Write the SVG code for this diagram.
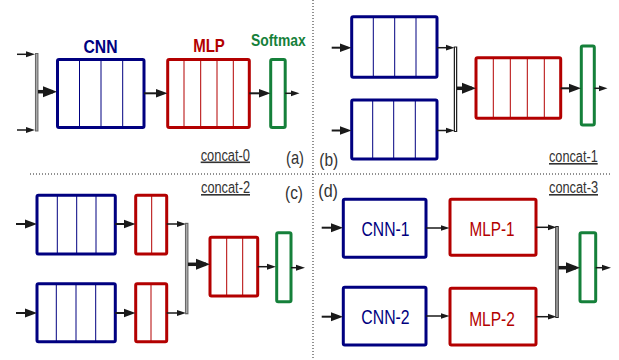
<svg xmlns="http://www.w3.org/2000/svg" width="619" height="360" viewBox="0 0 619 360">
  <style>
    .cnn { fill: #fff; stroke: #000080; stroke-width: 3; }
    .mlp { fill: #fff; stroke: #b30000; stroke-width: 3; }
    .smx { fill: #fff; stroke: #15803a; stroke-width: 3; }
    .cdiv { stroke: #000080; stroke-width: 1; }
    .mdiv { stroke: #b30000; stroke-width: 1; }
    .a-big { stroke: #1a1a1a; stroke-width: 3.5; fill: none; marker-end: url(#hBig); }
    .a-med { stroke: #1a1a1a; stroke-width: 2; fill: none; marker-end: url(#hMed); }
    .a-sm { stroke: #1a1a1a; stroke-width: 1.5; fill: none; marker-end: url(#hSm); }
    .bar-out { stroke: #222; stroke-width: 3.5; fill: none; }
    .bar-out-g { stroke: #666; stroke-width: 3.5; fill: none; }
    .bar-in-g { stroke: #aaa; stroke-width: 1.5; fill: none; }
    .bar-in-w { stroke: #fff; stroke-width: 1; fill: none; }
    .sep { stroke: #222; stroke-width: 1; stroke-dasharray: 1 2; fill: none; }
    .ttl { font-family: "Liberation Sans", Arial, sans-serif; font-weight: bold; text-anchor: middle; }
    .nm { font-family: "Liberation Sans", Arial, sans-serif; font-size: 20px; text-anchor: middle; }
    .cc { font-family: "Liberation Sans", Arial, sans-serif; font-size: 16px; fill: #333; text-decoration: underline; }
    .pl { font-family: "Liberation Sans", Arial, sans-serif; font-size: 19px; fill: #333; }
  </style>
  <defs>
    <marker id="hBig" markerUnits="userSpaceOnUse" markerWidth="14" markerHeight="12" refX="10" refY="6" orient="auto">
      <path d="M0,0.5 L14,6 L0,11.5 z" fill="#1a1a1a"/>
    </marker>
    <marker id="hMed" markerUnits="userSpaceOnUse" markerWidth="12" markerHeight="10" refX="8" refY="5" orient="auto">
      <path d="M0,0.5 L12,5 L0,9.5 z" fill="#1a1a1a"/>
    </marker>
    <marker id="hSm" markerUnits="userSpaceOnUse" markerWidth="9" markerHeight="7" refX="5" refY="3.5" orient="auto">
      <path d="M0,0.5 L9,3.5 L0,6.5 z" fill="#1a1a1a"/>
    </marker>
  </defs>

  <!-- panel separators -->
  <g id="separators">
    <line class="sep" x1="30" y1="174" x2="610" y2="174"/>
    <line class="sep" x1="313" y1="0" x2="313" y2="360"/>
  </g>

  <!-- ===== (a) concat-0 ===== -->
  <g id="a-cnn">
    <text class="ttl" x="100.5" y="52.5" font-size="18" fill="#000080" textLength="34" lengthAdjust="spacingAndGlyphs">CNN</text>
    <rect class="cnn" x="57.5" y="59.5" width="86.5" height="68" rx="1.5"/>
    <line class="cdiv" x1="79.5" y1="59.5" x2="79.5" y2="127.5"/>
    <line class="cdiv" x1="101" y1="59.5" x2="101" y2="127.5"/>
    <line class="cdiv" x1="122.7" y1="59.5" x2="122.7" y2="127.5"/>
  </g>
  <g id="a-mlp">
    <text class="ttl" x="209" y="51.5" font-size="18" fill="#b30000" textLength="31.7" lengthAdjust="spacingAndGlyphs">MLP</text>
    <rect class="mlp" x="167.7" y="59.5" width="81.6" height="68" rx="1.5"/>
    <line class="mdiv" x1="184" y1="59.5" x2="184" y2="127.5"/>
    <line class="mdiv" x1="200.7" y1="59.5" x2="200.7" y2="127.5"/>
    <line class="mdiv" x1="217" y1="59.5" x2="217" y2="127.5"/>
    <line class="mdiv" x1="233.3" y1="59.5" x2="233.3" y2="127.5"/>
  </g>
  <g id="a-softmax">
    <text class="ttl" x="278.3" y="45.5" font-size="17" fill="#15803a" textLength="54.7" lengthAdjust="spacingAndGlyphs">Softmax</text>
    <rect class="smx" x="270.7" y="59.5" width="14.5" height="68" rx="1.5"/>
  </g>
  <g id="a-labels">
    <text class="cc" x="200.7" y="160.5" textLength="49.3" lengthAdjust="spacingAndGlyphs">concat-0</text>
    <text class="pl" x="286" y="164" textLength="18" lengthAdjust="spacingAndGlyphs">(a)</text>
  </g>

  <!-- ===== (b) concat-1 ===== -->
  <g id="b-cnn-top">
    <rect class="cnn" x="351.7" y="16.7" width="85.3" height="60.6" rx="1.5"/>
    <line class="cdiv" x1="373.3" y1="16.7" x2="373.3" y2="77.3"/>
    <line class="cdiv" x1="394.7" y1="16.7" x2="394.7" y2="77.3"/>
    <line class="cdiv" x1="416" y1="16.7" x2="416" y2="77.3"/>
  </g>
  <g id="b-cnn-bottom">
    <rect class="cnn" x="351.7" y="100" width="85.3" height="59" rx="1.5"/>
    <line class="cdiv" x1="372.7" y1="100" x2="372.7" y2="159"/>
    <line class="cdiv" x1="393.7" y1="100" x2="393.7" y2="159"/>
    <line class="cdiv" x1="415.3" y1="100" x2="415.3" y2="159"/>
  </g>
  <g id="b-mlp">
    <rect class="mlp" x="476" y="57.7" width="84.7" height="60.6" rx="1.5"/>
    <line class="mdiv" x1="493.3" y1="57.7" x2="493.3" y2="118.3"/>
    <line class="mdiv" x1="510.3" y1="57.7" x2="510.3" y2="118.3"/>
    <line class="mdiv" x1="527.3" y1="57.7" x2="527.3" y2="118.3"/>
    <line class="mdiv" x1="544.3" y1="57.7" x2="544.3" y2="118.3"/>
  </g>
  <g id="b-softmax">
    <rect class="smx" x="581.3" y="46" width="13" height="79" rx="1.5"/>
  </g>
  <g id="b-labels">
    <text class="cc" x="549" y="162" textLength="48.7" lengthAdjust="spacingAndGlyphs">concat-1</text>
    <text class="pl" x="319.3" y="166" textLength="19" lengthAdjust="spacingAndGlyphs">(b)</text>
  </g>

  <!-- ===== (c) concat-2 ===== -->
  <g id="c-cnn-top">
    <rect class="cnn" x="37" y="195.3" width="78.3" height="58.7" rx="1.5"/>
    <line class="cdiv" x1="57.3" y1="195.3" x2="57.3" y2="254"/>
    <line class="cdiv" x1="76.7" y1="195.3" x2="76.7" y2="254"/>
    <line class="cdiv" x1="96" y1="195.3" x2="96" y2="254"/>
  </g>
  <g id="c-cnn-bottom">
    <rect class="cnn" x="37" y="283.7" width="78.3" height="58" rx="1.5"/>
    <line class="cdiv" x1="56.3" y1="283.7" x2="56.3" y2="341.7"/>
    <line class="cdiv" x1="76" y1="283.7" x2="76" y2="341.7"/>
    <line class="cdiv" x1="95.7" y1="283.7" x2="95.7" y2="341.7"/>
  </g>
  <g id="c-mlp-top">
    <rect class="mlp" x="135.7" y="195.3" width="31" height="58.7" rx="1.5"/>
    <line class="mdiv" x1="151.7" y1="195.3" x2="151.7" y2="254"/>
  </g>
  <g id="c-mlp-bottom">
    <rect class="mlp" x="135.7" y="283.7" width="31" height="58" rx="1.5"/>
    <line class="mdiv" x1="151" y1="283.7" x2="151" y2="341.7"/>
  </g>
  <g id="c-mlp">
    <rect class="mlp" x="210" y="237.3" width="47.7" height="58.7" rx="1.5"/>
    <line class="mdiv" x1="226.7" y1="237.3" x2="226.7" y2="296"/>
    <line class="mdiv" x1="242.7" y1="237.3" x2="242.7" y2="296"/>
  </g>
  <g id="c-softmax">
    <rect class="smx" x="276.7" y="232.7" width="14.3" height="69" rx="1.5"/>
  </g>
  <g id="c-labels">
    <text class="cc" x="201" y="193" textLength="49" lengthAdjust="spacingAndGlyphs">concat-2</text>
    <text class="pl" x="285" y="199" textLength="18" lengthAdjust="spacingAndGlyphs">(c)</text>
  </g>

  <!-- ===== (d) concat-3 ===== -->
  <g id="d-cnn1">
    <rect class="cnn" x="343.3" y="199.3" width="82.7" height="58" rx="1.5"/>
    <text class="nm" x="385.5" y="236" fill="#000080" textLength="48" lengthAdjust="spacingAndGlyphs">CNN-1</text>
  </g>
  <g id="d-cnn2">
    <rect class="cnn" x="343.3" y="287.3" width="82.7" height="57.7" rx="1.5"/>
    <text class="nm" x="385.5" y="324" fill="#000080" textLength="48.3" lengthAdjust="spacingAndGlyphs">CNN-2</text>
  </g>
  <g id="d-mlp1">
    <rect class="mlp" x="450" y="199.3" width="86" height="56" rx="1.5"/>
    <text class="nm" x="492" y="236" fill="#b30000" textLength="45" lengthAdjust="spacingAndGlyphs">MLP-1</text>
  </g>
  <g id="d-mlp2">
    <rect class="mlp" x="450" y="288.3" width="86" height="56.7" rx="1.5"/>
    <text class="nm" x="492" y="326" fill="#b30000" textLength="45.7" lengthAdjust="spacingAndGlyphs">MLP-2</text>
  </g>
  <g id="d-softmax">
    <rect class="smx" x="580" y="232.7" width="15.7" height="69" rx="1.5"/>
  </g>
  <g id="d-labels">
    <text class="cc" x="549" y="193" textLength="49" lengthAdjust="spacingAndGlyphs">concat-3</text>
    <text class="pl" x="318.3" y="197" textLength="19.7" lengthAdjust="spacingAndGlyphs">(d)</text>
  </g>

  <!-- connectors -->
  <g id="connectors">
    <!-- (a) -->
    <line class="a-sm" x1="17" y1="54.3" x2="31" y2="54.3"/>
    <line class="a-sm" x1="17" y1="130" x2="31" y2="130"/>
    <line class="bar-out-g" x1="36.7" y1="53" x2="36.7" y2="131.5"/>
    <line class="bar-in-g" x1="36.7" y1="54" x2="36.7" y2="130.5"/>
    <line class="a-big" x1="38" y1="91.7" x2="53" y2="91.7"/>
    <line class="a-med" x1="144" y1="93.3" x2="163.5" y2="93.3"/>
    <line class="a-med" x1="249.3" y1="93.3" x2="266.5" y2="93.3"/>
    <line class="a-sm" x1="285.2" y1="93.3" x2="295.5" y2="93.3"/>

    <!-- (b) -->
    <line class="a-med" x1="331.7" y1="47.7" x2="347.5" y2="47.7"/>
    <line class="a-med" x1="331.7" y1="130.5" x2="347.5" y2="130.5"/>
    <line class="a-sm" x1="437" y1="47.7" x2="450.5" y2="47.7"/>
    <line class="a-sm" x1="437" y1="130.5" x2="450.5" y2="130.5"/>
    <line class="bar-out" x1="455.5" y1="46.5" x2="455.5" y2="132"/>
    <line class="bar-in-w" x1="455.5" y1="47.5" x2="455.5" y2="131"/>
    <line class="a-big" x1="457" y1="88.3" x2="472" y2="88.3"/>
    <line class="a-med" x1="560.7" y1="88.3" x2="577" y2="88.3"/>
    <line class="a-sm" x1="594.3" y1="88.3" x2="603.5" y2="88.3"/>

    <!-- (c) -->
    <line class="a-med" x1="16" y1="224" x2="33" y2="224"/>
    <line class="a-med" x1="16" y1="313" x2="33" y2="313"/>
    <line class="a-med" x1="115.3" y1="224" x2="131.5" y2="224"/>
    <line class="a-med" x1="115.3" y1="313" x2="131.5" y2="313"/>
    <line class="a-sm" x1="166.7" y1="224" x2="182" y2="224"/>
    <line class="a-sm" x1="166.7" y1="313" x2="182" y2="313"/>
    <line class="bar-out-g" x1="186.7" y1="222.8" x2="186.7" y2="314.3"/>
    <line class="bar-in-g" x1="186.7" y1="224" x2="186.7" y2="313"/>
    <line class="a-big" x1="188" y1="264.3" x2="206" y2="264.3"/>
    <line class="a-sm" x1="257.7" y1="266.7" x2="272" y2="266.7"/>
    <line class="a-sm" x1="291" y1="267.7" x2="301" y2="267.7"/>

    <!-- (d) -->
    <line class="a-med" x1="321.7" y1="227.7" x2="339" y2="227.7"/>
    <line class="a-med" x1="321.7" y1="316.7" x2="339" y2="316.7"/>
    <line class="a-sm" x1="426" y1="228" x2="445.5" y2="228"/>
    <line class="a-sm" x1="426" y1="316" x2="445.5" y2="316"/>
    <line class="a-sm" x1="536" y1="227.3" x2="552.5" y2="227.3"/>
    <line class="a-sm" x1="536" y1="316.7" x2="552.5" y2="316.7"/>
    <line class="bar-out" x1="557" y1="226" x2="557" y2="318"/>
    <line class="bar-in-w" x1="557" y1="227" x2="557" y2="317"/>
    <line class="a-big" x1="558.5" y1="267.7" x2="576" y2="267.7"/>
    <line class="a-sm" x1="595.7" y1="267.7" x2="607" y2="267.7"/>
  </g>
</svg>
